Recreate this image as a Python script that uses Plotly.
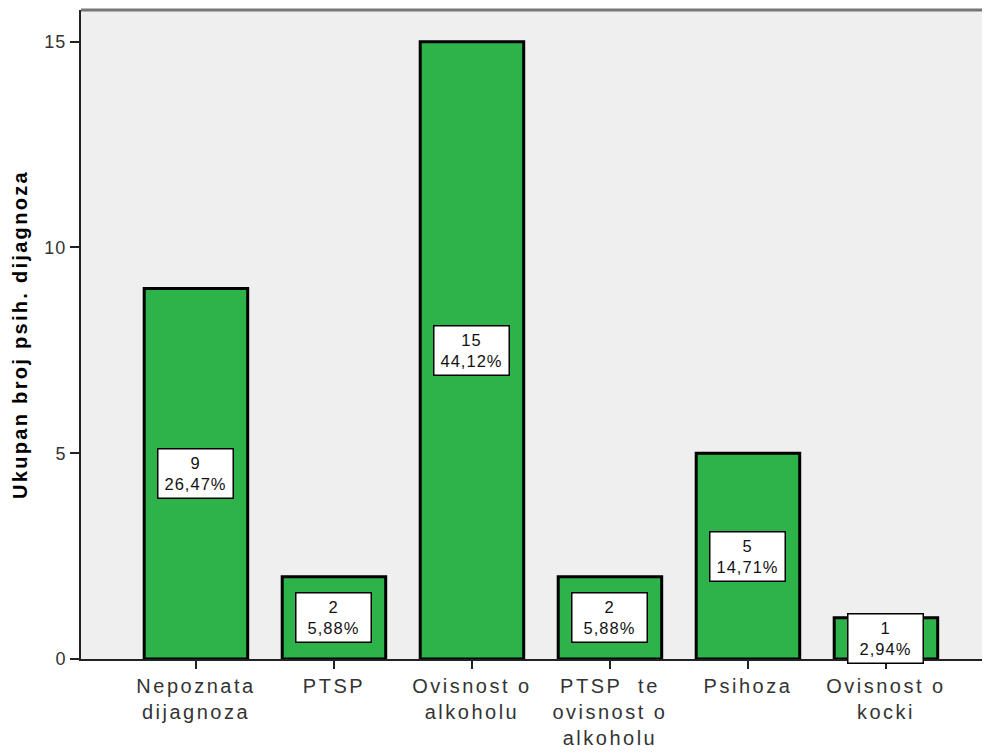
import plotly.graph_objects as go

categories = ["Nepoznata<br>dijagnoza", "PTSP", "Ovisnost o<br>alkoholu",
              "PTSP  te<br>ovisnost o<br>alkoholu", "Psihoza", "Ovisnost o<br>kocki"]
counts = [9, 2, 15, 2, 5, 1]
percents = ["26,47%", "5,88%", "44,12%", "5,88%", "14,71%", "2,94%"]
y_ticks = [0, 5, 10, 15]

x_idx = list(range(len(categories)))


def spaced(s, px):
    return "<br>".join(f'<span style="letter-spacing:{px}px">{part}</span>'
                       for part in s.split("<br>"))


fig = go.Figure()
fig.add_trace(go.Bar(
    x=x_idx, y=counts, width=0.75,
    marker=dict(color="rgb(45,179,74)", line=dict(color="black", width=3)),
    hoverinfo="skip",
))

for i, (c, p) in enumerate(zip(counts, percents)):
    fig.add_annotation(
        x=i, y=c / 2, xref="x", yref="y",
        text=spaced(f"{c}<br>{p}", 1), showarrow=False,
        font=dict(family="Liberation Sans, Arial", size=16.5, color="#111111"),
        bgcolor="white", bordercolor="black", borderwidth=1.5, borderpad=1,
        width=72, height=46, align="center", valign="middle",
    )

fig.add_shape(type="line", xref="paper", yref="paper", x0=0, x1=1, y0=1, y1=1,
              line=dict(color="#777777", width=3))

fig.update_layout(
    width=982, height=747,
    margin=dict(l=73, r=0, t=2, b=96),
    paper_bgcolor="white", plot_bgcolor="#efefef",
    showlegend=False,
    font=dict(family="Liberation Sans, Arial", color="#222222"),
    xaxis=dict(
        tickmode="array", tickvals=x_idx, ticktext=[spaced(c, 2.5) for c in categories],
        range=[-0.833, 5.754], showgrid=False, zeroline=False,
        showline=True, linecolor="#222222", linewidth=1.5,
        ticks="outside", ticklen=8, tickwidth=1.5, tickcolor="#222222",
        tickfont=dict(size=20, color="#333333"),
    ),
    yaxis=dict(
        tickmode="array", tickvals=y_ticks, ticktext=[spaced(str(v), 1) for v in y_ticks],
        range=[0, 15.77], showgrid=False, zeroline=False,
        showline=True, linecolor="#222222", linewidth=2,
        ticks="outside", ticklen=9, tickwidth=1.5, tickcolor="#222222",
        tickfont=dict(size=18, color="#333333"),
        title=dict(text='<b><span style="letter-spacing:2.3px">Ukupan broj psih. dijagnoza</span></b>',
                   font=dict(size=20, color="black"), standoff=11),
    ),
)

fig.write_html("out.html")
